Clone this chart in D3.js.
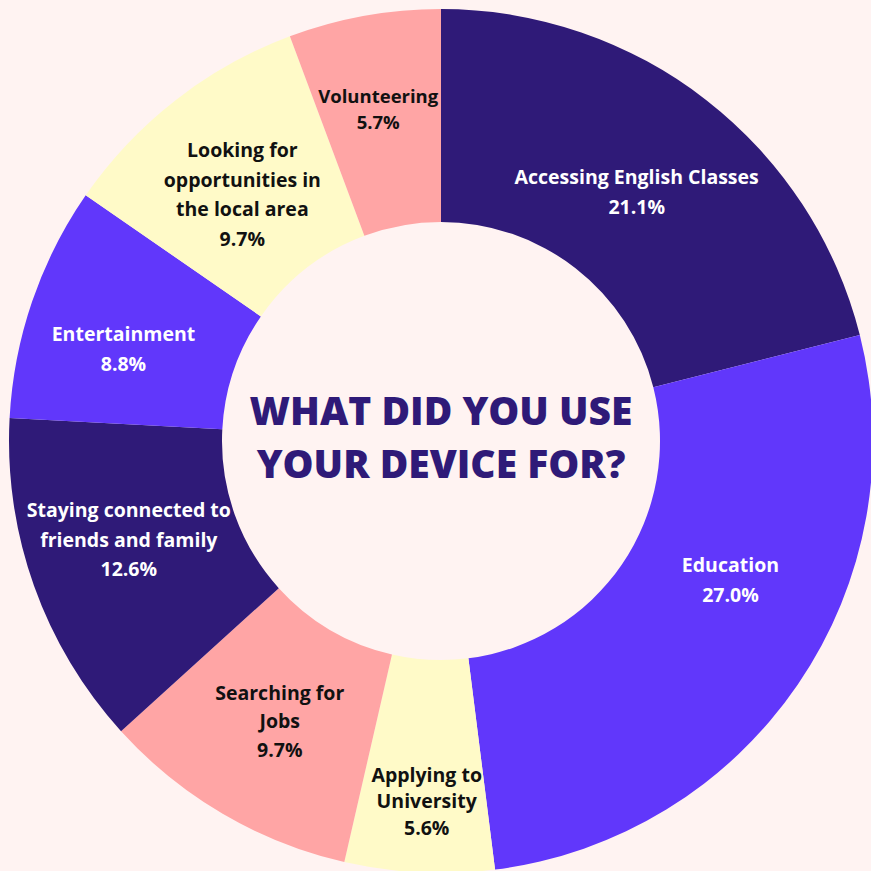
<!DOCTYPE html>
<html>
<head>
<meta charset="utf-8">
<script src="https://cdn.jsdelivr.net/npm/d3@7"></script>
<style>
  body { margin: 0; background: #fff3f2; }
  svg { display: block; }
</style>
</head>
<body>
<div id="chart"></div>
<script>
const labels = [
  ["Accessing English Classes"],
  ["Education"],
  ["Applying to", "University"],
  ["Searching for", "Jobs"],
  ["Staying connected to", "friends and family"],
  ["Entertainment"],
  ["Looking for", "opportunities in", "the local area"],
  ["Volunteering"]
];
const values = [21.1, 27.0, 5.6, 9.7, 12.6, 8.8, 9.7, 5.7];
const colors = ["#2f1a78", "#6137fb", "#fffac8", "#ffa5a5", "#2f1a78", "#6137fb", "#fffac8", "#ffa5a5"];
const textColors = ["#ffffff", "#ffffff", "#111111", "#111111", "#ffffff", "#ffffff", "#111111", "#111111"];
const title = ["WHAT DID YOU USE", "YOUR DEVICE FOR?"];

const width = 871;
const height = 871;
const cx = 441, cy = 441;
const outerR = 432, innerR = 219;

// hand nudges from the arc centroid, so labels sit where the original put them
const labelShift = [[-4, 8], [21, -44], [2, 36], [3, 0], [-6, -10], [-10, 13], [1, 10], [-5, -12]];
const lineGap = [30, 30, 26.5, 28.5, 29.5, 30, 29.5, 26];

const svg = d3.select("#chart").append("svg")
  .attr("width", width)
  .attr("height", height);

svg.append("rect").attr("width", width).attr("height", height).attr("fill", "#fff3f2");

const g = svg.append("g").attr("transform", "translate(" + cx + "," + cy + ")");

const pie = d3.pie().sort(null).value(d => d);
const arcs = pie(values);

const arc = d3.arc().innerRadius(innerR).outerRadius(outerR);
const labelArc = d3.arc().innerRadius(325).outerRadius(325);

g.selectAll(".slice")
  .data(arcs)
  .enter()
  .append("path")
  .attr("class", "slice")
  .attr("d", arc)
  .attr("fill", (d, i) => colors[i]);

const lbl = g.selectAll(".lbl")
  .data(arcs)
  .enter()
  .append("text")
  .attr("class", "lbl")
  .attr("text-anchor", "middle")
  .style("font-family", "'Open Sans', sans-serif")
  .style("font-weight", 700)
  .style("font-size", (d, i) => i === 7 ? "18.5px" : "19.5px")
  .attr("fill", (d, i) => textColors[i])
  .attr("transform", (d, i) => {
    let c = labelArc.centroid(d);
    return "translate(" + (c[0] + labelShift[i][0]) + "," + (c[1] + labelShift[i][1]) + ")";
  });

lbl.each(function (d, i) {
  const lines = labels[i].concat([values[i].toFixed(1) + "%"]);
  const start = -(lines.length - 1) * lineGap[i] / 2;
  d3.select(this).selectAll("tspan")
    .data(lines)
    .enter()
    .append("tspan")
    .attr("x", 0)
    .attr("y", (t, j) => start + j * lineGap[i])
    .attr("dy", "0.35em")
    .text(t => t);
});

g.append("text")
  .attr("text-anchor", "middle")
  .style("font-family", "'Open Sans', sans-serif")
  .style("font-weight", 800)
  .style("font-size", "39px")
  .attr("fill", "#2f1a78")
  .selectAll("tspan")
  .data(title)
  .enter()
  .append("tspan")
  .attr("x", 0)
  .attr("y", (t, j) => -16 + j * 53)
  .text(t => t);
</script>
</body>
</html>
